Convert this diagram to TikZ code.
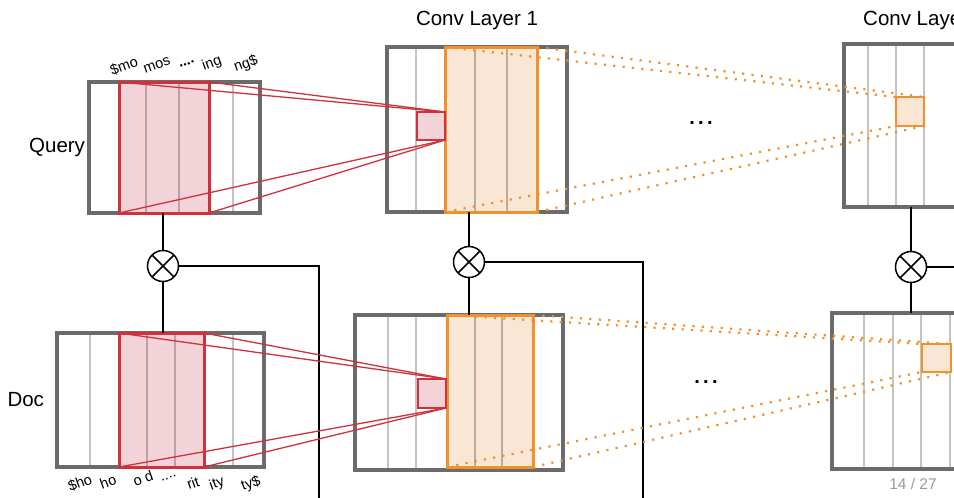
\documentclass[tikz,border=0pt]{standalone}
\usepackage{fontspec}
\setmainfont{Liberation Sans}
\usetikzlibrary{positioning}
\definecolor{boxgray}{HTML}{6B6B6B}
\definecolor{colgray}{HTML}{C4C4C4}
\definecolor{winred}{HTML}{D0313D}
\definecolor{winpink}{HTML}{F2D4D8}
\definecolor{redcol}{HTML}{B9A2A6}
\definecolor{winorange}{HTML}{F0922B}
\definecolor{winpeach}{HTML}{FAE6D4}
\definecolor{orcol}{HTML}{BDAB9A}
\definecolor{pagegray}{HTML}{9A9A9A}

\begin{document}
\begin{tikzpicture}[
    x=1pt, y=-1pt,
    outerbox/.style={rectangle, draw=boxgray, fill=white, line width=4pt, anchor=north west, inner sep=0pt, outer sep=0pt},
    redwin/.style={rectangle, draw=winred, fill=winpink, line width=3pt, anchor=north west, inner sep=0pt, outer sep=0pt},
    orwin/.style={rectangle, draw=winorange, fill=winpeach, line width=3pt, anchor=north west, inner sep=0pt, outer sep=0pt},
    redsq/.style={redwin, line width=2pt},
    orsq/.style={orwin, line width=2pt},
    col/.style={colgray, line width=1.5pt},
    redcolline/.style={redcol, line width=1.5pt},
    orcolline/.style={orcol, line width=1.5pt},
    redlink/.style={winred, line width=1.3pt},
    orlink/.style={winorange, line width=2.2pt, dash pattern=on 2.2pt off 7.2pt},
    mult/.style={circle, draw, line width=1.5pt, minimum size=31pt, inner sep=0pt, outer sep=0pt,
      path picture={\draw[line width=1.5pt] (path picture bounding box.south west) -- (path picture bounding box.north east)
        (path picture bounding box.north west) -- (path picture bounding box.south east);}},
    wire/.style={black, line width=1.3pt},
    lbl/.style={inner sep=0pt, outer sep=0pt, font=\fontsize{20.5}{24}\selectfont},
    title/.style={inner sep=0pt, anchor=base, font=\fontsize{20.5}{24}\selectfont},
    gram/.style={inner sep=0pt, rotate=20, font=\fontsize{14.5}{16}\selectfont},
    dots/.style={inner sep=0pt, font=\fontsize{20}{24}\selectfont\bfseries},
  ]
  \clip (0,0) rectangle (954,498);

  % Input boxes
  \node[outerbox, minimum width=171pt, minimum height=131pt] (qbox) at (89,82) {};
  \node[outerbox, minimum width=207pt, minimum height=134pt] (dbox) at (57,333) {};
  \foreach \x in {233} \draw[col] (\x,84) -- (\x,211);
  \foreach \x in {90,233} \draw[col] (\x,335) -- (\x,465);
  \node[redwin, minimum width=90pt, minimum height=131pt] (qwin) at (119,82) {};
  \node[redwin, minimum width=85pt, minimum height=134pt] (dwin) at (119,333) {};
  \foreach \x in {146,179} \draw[redcolline] (\x,83.5) -- (\x,211.5);
  \foreach \x in {147,175} \draw[redcolline] (\x,334.5) -- (\x,465.5);

  \node[lbl, left=4pt of qbox] (qlbl) {Query};
  \node[lbl, left=13pt of dbox] (dlbl) {Doc};

  % letter n-grams
  \node[gram] (qg1) at (124,66) {\$mo};
  \node[gram] (qg2) at (157,65) {mos};
  \node[gram] (qg3) at (187,64) {\bfseries....};
  \node[gram] (qg4) at (212,64) {ing};
  \node[gram] (qg5) at (246,64) {ng\$};
  \node[gram] (dg1) at (80,483) {\$ho};
  \node[gram] (dg2) at (108,482) {ho};
  \node[gram] (dg3) at (143,478) {o d};
  \node[gram] (dg4) at (169,478) {....};
  \node[gram] (dg5) at (193,483) {rit};
  \node[gram] (dg6) at (217,484) {ity};
  \node[gram] (dg7) at (251,484) {ty\$};

  % Conv layer 1
  \node[title] (t1) at (477,25) {Conv Layer 1};
  \node[outerbox, minimum width=180pt, minimum height=165pt] (c1q) at (387,47) {};
  \node[outerbox, minimum width=208pt, minimum height=155pt] (c1d) at (355,315) {};
  \draw[col] (416,49) -- (416,210);
  \foreach \x in {388,416} \draw[col] (\x,317) -- (\x,468);
  \node[orwin, minimum width=92pt, minimum height=165pt] (c1qwin) at (445,47) {};
  \node[orwin, minimum width=86pt, minimum height=152pt] (c1dwin) at (447,315) {};
  \foreach \x in {475,507} \draw[orcolline] (\x,48.5) -- (\x,210.5);
  \foreach \x in {475,502} \draw[orcolline] (\x,316.5) -- (\x,465.5);
  \node[redsq, minimum width=28pt, minimum height=28pt] (qsq) at (417,112) {};
  \node[redsq, minimum width=28pt, minimum height=29pt] (dsq) at (418,379) {};

  % Conv layer 2
  \node[title, anchor=base west] (t2) at (863,25) {Conv Layer 2};
  \node[outerbox, minimum width=160pt, minimum height=163pt] (c2q) at (844,44) {};
  \node[outerbox, minimum width=170pt, minimum height=156pt] (c2d) at (832,313) {};
  \foreach \x in {868,896,924} \draw[col] (\x,46) -- (\x,205);
  \foreach \x in {864,893,921,950} \draw[col] (\x,315) -- (\x,467);
  \node[orsq, minimum width=28pt, minimum height=29pt] (c2qsq) at (896,97) {};
  \node[orsq, minimum width=29pt, minimum height=28pt] (c2dsq) at (922,344) {};

  \node[dots, anchor=base] (qdots) at (701,124) {.\kern.1666em.\kern.1666em.};
  \node[dots, anchor=base] (ddots) at (706,383) {.\kern.1666em.\kern.1666em.};

  % Matching
  \node[mult] (m0) at (163,266) {};
  \node[mult] (m1) at (469,262) {};
  \node[mult] (m2) at (911,267) {};
  \coordinate (m0end) at (319,498);
  \coordinate (m1end) at (643,498);
  \coordinate (m2end) at (954,267);
  \draw[wire] (m0.north) -- (m0.north |- qbox.south);
  \draw[wire] (m0.south) -- (m0.south |- dbox.north);
  \draw[wire] (m0.east) -| (m0end);
  \draw[wire] (m1.north) -- (m1.north |- c1q.south);
  \draw[wire] (m1.south) -- (m1.south |- c1d.north);
  \draw[wire] (m1.east) -| (m1end);
  \draw[wire] (m2.north) -- (m2.north |- c2q.south);
  \draw[wire] (m2.south) -- (m2.south |- c2d.north);
  \draw[wire] (m2.east) -- (m2end);

  % Receptive fields
  \draw[redlink] (qwin.north west) -- (qsq.north east);
  \draw[redlink] (qwin.north east) -- (qsq.north east);
  \draw[redlink] (qwin.south west) -- (qsq.south east);
  \draw[redlink] (qwin.south east) -- (qsq.south east);
  \draw[redlink] (dwin.north west) -- (dsq.north east);
  \draw[redlink] (dwin.north east) -- (dsq.north east);
  \draw[redlink] (dwin.south west) -- (dsq.south east);
  \draw[redlink] (dwin.south east) -- (dsq.south east);
  \draw[orlink] (c1qwin.north west) -- (c2qsq.north west);
  \draw[orlink] (c1qwin.north east) -- (c2qsq.north east);
  \draw[orlink] (c1qwin.south west) -- (c2qsq.south west);
  \draw[orlink] (c1qwin.south east) -- (c2qsq.south east);
  \draw[orlink] (c1dwin.north west) -- (c2dsq.north west);
  \draw[orlink] (c1dwin.north east) -- (c2dsq.north east);
  \draw[orlink] (c1dwin.south west) -- (c2dsq.south west);
  \draw[orlink] (c1dwin.south east) -- (c2dsq.south east);

  \node[inner sep=0pt, text=pagegray, font=\fontsize{15.5}{18}\selectfont] (pnum) at (913,484) {14 / 27};
\end{tikzpicture}
\end{document}
